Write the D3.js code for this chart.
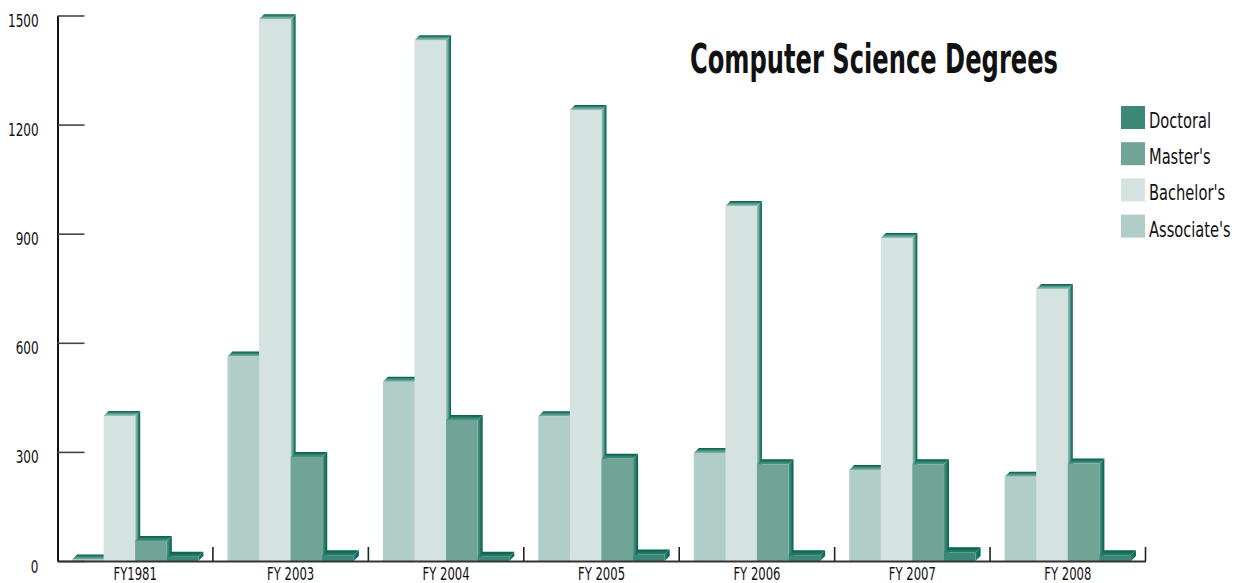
<!DOCTYPE html>
<html><head><meta charset="utf-8">
<script src="https://cdn.jsdelivr.net/npm/d3@7"></script>
<style>
body{margin:0;background:#fff}
svg{display:block}
text{font-family:"Liberation Sans Narrow","DejaVu Sans Condensed","Roboto",sans-serif;fill:#111}
</style>
</head><body><svg id="chart" width="1236" height="583"></svg>
<script>
const categories = ["FY1981","FY 2003","FY 2004","FY 2005","FY 2006","FY 2007","FY 2008"];
const seriesNames = ["Associate's","Bachelor's","Master's","Doctoral"];
const associates = [4,562,493,398,297,250,232];
const bachelors = [399,1490,1432,1240,976,888,748];
const masters = [55,286,388,281,266,266,268];
const doctoral = [12,16,12,18,16,24,16];
const seriesValues = [associates,bachelors,masters,doctoral];
const seriesColors = ["#b1cdc7","#d4e3e0","#70a497","#3d8777"];
const yTicks = [0,300,600,900,1200,1500];
const legendOrder = ["Doctoral","Master's","Bachelor's","Associate's"];
const titleText = "Computer Science Degrees";

const svg = d3.select("#chart");
const plot = {left:57.5, right:1145.5, top:15.5, bottom:561};
const depth = 5;
const edgeDark = "#00624d";

const y = d3.scaleLinear().domain([0,1500]).range([plot.bottom, plot.top]);
const x0 = d3.scaleBand().domain(categories).range([plot.left, plot.right]).paddingInner(0).paddingOuter(0);
const x1 = d3.scaleBand().domain(seriesNames).range([0, x0.bandwidth()]).paddingInner(0).paddingOuter(0.46);
const color = d3.scaleOrdinal().domain(seriesNames).range(seriesColors);

// condense text horizontally (narrow display face look)
function condense(sel, factor){
  sel.each(function(){
    const len = this.getComputedTextLength();
    d3.select(this).attr("textLength", len*factor).attr("lengthAdjust","spacingAndGlyphs");
  });
}

// gradients
const defs = svg.append("defs");
seriesNames.forEach((s,i)=>{
  const c = d3.color(seriesColors[i]);
  const mix = t => d3.interpolateRgb(c, edgeDark)(t);
  [["top",0,1,0,0],["side",0,0,1,0]].forEach(([nm,ax1,ay1,ax2,ay2])=>{
    const g = defs.append("linearGradient").attr("id",nm+i)
      .attr("x1",ax1).attr("y1",ay1).attr("x2",ax2).attr("y2",ay2);
    g.append("stop").attr("offset","0%").attr("stop-color",mix(0.25));
    g.append("stop").attr("offset","45%").attr("stop-color",mix(0.55));
    g.append("stop").attr("offset","75%").attr("stop-color",mix(0.85));
    g.append("stop").attr("offset","100%").attr("stop-color",edgeDark);
  });
});

// bars
const barsG = svg.append("g");
categories.forEach((cat,ci)=>{
  const g = barsG.append("g").attr("transform",`translate(${x0(cat)},0)`);
  seriesNames.forEach((s,si)=>{
    const v = seriesValues[si][ci];
    const bx = x1(s), w = x1.bandwidth();
    const ty = y(v), base = y(0);
    const d = depth;
    g.append("rect").attr("x",bx).attr("y",ty).attr("width",w).attr("height",Math.max(0,base-ty))
      .attr("fill",color(s));
    g.append("polygon")
      .attr("points",[[bx+w,ty],[bx+w+d,ty-d],[bx+w+d,base-d],[bx+w,base]].map(p=>p.join(",")).join(" "))
      .attr("fill",`url(#side${si})`);
    g.append("polygon")
      .attr("points",[[bx,ty],[bx+d,ty-d],[bx+w+d,ty-d],[bx+w,ty]].map(p=>p.join(",")).join(" "))
      .attr("fill",`url(#top${si})`);
  });
});

// y axis
const yAxis = d3.axisLeft(y).tickValues(yTicks).tickFormat(d3.format("d"))
  .tickSizeInner(-27).tickSizeOuter(0).tickPadding(19);
const yG = svg.append("g").attr("transform",`translate(${plot.left},0)`).call(yAxis);
yG.select(".domain").attr("stroke","#111").attr("stroke-width",2);
yG.selectAll(".tick line").attr("stroke","#444").attr("stroke-width",1.6);
const yTxt = yG.selectAll(".tick text").attr("dy","0").attr("y",11).attr("font-size",18)
  .attr("font-family",null).attr("fill","#111");
condense(yTxt, 0.74);

// x axis
const xAxis = d3.axisBottom(x0).tickSize(0).tickSizeOuter(0).tickPadding(0);
const xG = svg.append("g").attr("transform",`translate(0,${plot.bottom})`).call(xAxis);
xG.select(".domain").attr("stroke","#333").attr("stroke-width",2);
const xTxt = xG.selectAll(".tick text").attr("dy","0").attr("y",18.5).attr("font-size",17)
  .attr("font-family",null).attr("fill","#111");
condense(xTxt, 0.76);
xG.selectAll(".bound").data(categories).enter().append("line").attr("class","bound")
  .attr("x1",d=>x0(d)+x0.step()).attr("x2",d=>x0(d)+x0.step())
  .attr("y1",0).attr("y2",-14).attr("stroke","#222").attr("stroke-width",1.6);

// title
const titleEl = svg.append("text").attr("x",690).attr("y",73).attr("font-size",40).attr("font-weight","bold")
  .text(titleText);
condense(titleEl, 368 / titleEl.node().getComputedTextLength());

// legend
const lg = svg.append("g").attr("transform","translate(1121,106)");
legendOrder.forEach((s,i)=>{
  const row = lg.append("g").attr("transform",`translate(0,${i*36.2})`);
  row.append("rect").attr("width",24).attr("height",23).attr("fill",color(s));
  const t = row.append("text").attr("x",28).attr("y",22).attr("font-size",22).text(s);
  condense(t, 0.74);
});
</script>
</body></html>
